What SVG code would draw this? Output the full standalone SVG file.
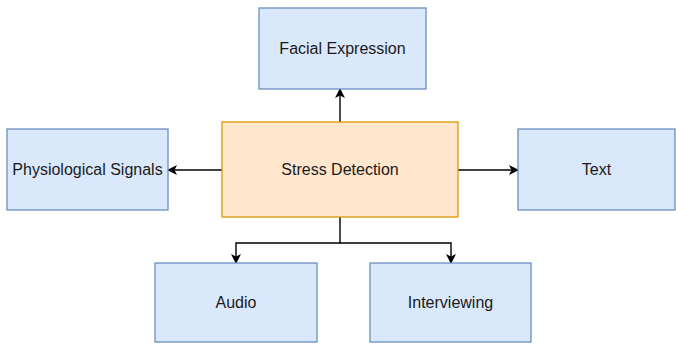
<svg xmlns="http://www.w3.org/2000/svg" width="676" height="345" viewBox="0 0 676 345">
<defs>
<style>
.b{fill:#dae8fc;stroke:#6c8ebf;stroke-width:1.3}
.o{fill:#ffe6cc;stroke:#d79b00;stroke-width:1.3}
.t{font-family:"Liberation Sans",Arial,sans-serif;font-size:16px;fill:#1a1a1a;text-anchor:middle;dominant-baseline:central}
.c{fill:none;stroke:#000;stroke-width:1.4}
</style>
<marker id="a" viewBox="0 0 10 10" refX="9" refY="5" markerWidth="10" markerHeight="10" markerUnits="userSpaceOnUse" orient="auto">
<path d="M0,0 L10,5 L0,10 L2.5,5 Z" fill="#000"/>
</marker>
</defs>
<rect width="676" height="345" fill="#fff"/>
<g id="connectors">
<path class="c" d="M340,122 V89" marker-end="url(#a)"/>
<path class="c" d="M222,170 H168" marker-end="url(#a)"/>
<path class="c" d="M458,170 H518" marker-end="url(#a)"/>
<path class="c" d="M340,217 V243 H236 V263" marker-end="url(#a)"/>
<path class="c" d="M340,243 H451 V263" marker-end="url(#a)"/>
</g>
<g id="facial"><rect class="b" x="259" y="8" width="167" height="81"/><text class="t" x="342.5" y="48.5">Facial Expression</text></g>
<g id="stress"><rect class="o" x="222" y="122" width="236" height="95"/><text class="t" x="340" y="169.5">Stress Detection</text></g>
<g id="physio"><rect class="b" x="7" y="129" width="161" height="81"/><text class="t" x="87.5" y="169.5">Physiological Signals</text></g>
<g id="text"><rect class="b" x="518" y="129" width="157" height="81"/><text class="t" x="596.5" y="169.5">Text</text></g>
<g id="audio"><rect class="b" x="155" y="263" width="162" height="79"/><text class="t" x="236" y="302.5">Audio</text></g>
<g id="interviewing"><rect class="b" x="370" y="263" width="161" height="79"/><text class="t" x="450.5" y="302.5">Interviewing</text></g>
</svg>
